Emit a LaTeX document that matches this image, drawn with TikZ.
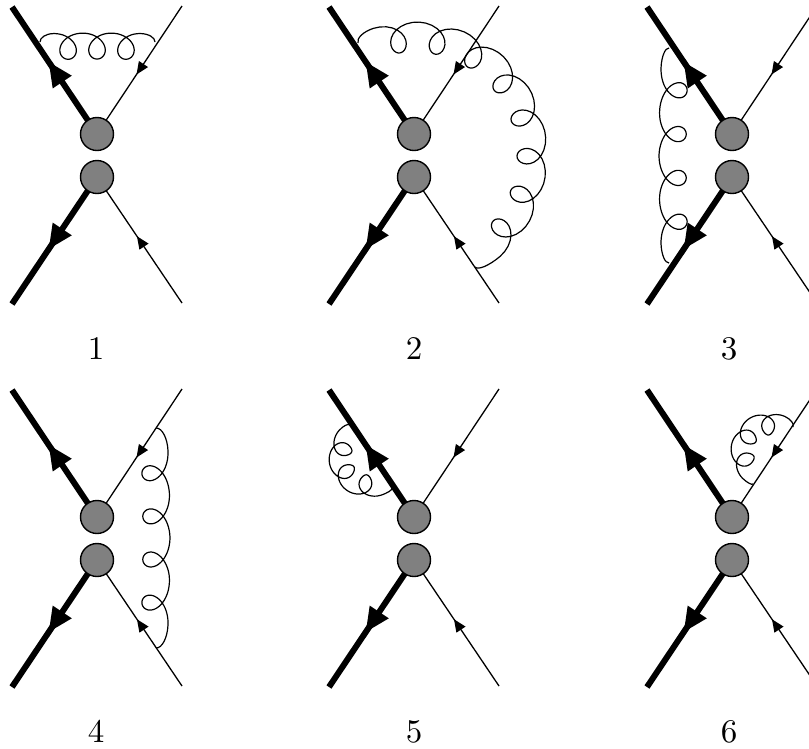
\documentclass[tikz,border=0pt]{standalone}
\usetikzlibrary{decorations.markings,calc}
\font\numfont=cmr10 at 33pt
\tikzset{
  blob/.style={circle,draw=black,fill=black!50,line width=1.4pt,minimum size=33pt,inner sep=0pt,outer sep=0pt},
  heavy/.style={line width=6pt,postaction={decorate},decoration={markings,mark=at position 70pt with {\fill[black] (0,0)--(-24pt,11.5pt)--(-24pt,-11.5pt)--cycle;}}},
  light/.style={line width=1.3pt,postaction={decorate},decoration={markings,mark=at position 55pt with {\fill[black] (0,0)--(12.5pt,5.5pt)--(12.5pt,-5.5pt)--cycle;}}},
  gluonline/.style={line width=1.2pt,line join=round},
  numlabel/.style={font=\numfont,inner sep=0pt}
}
% #1,#2 centre; #3 radius; #4 angle of first loop; #5 angle per loop; #6 half depth; #7 loop width ratio; #8 loops; #9 name of the end coordinates
\def\gluon#1#2#3#4#5#6#7#8#9{%
  \pgfmathsetmacro\tha{#4-0.5*(#5)}%
  \pgfmathsetmacro\thb{#4+(#8-0.5)*(#5)}%
  \pgfmathsetmacro\rout{#3+#6}%
  \coordinate (#9pa) at ({#1+\rout*cos(\tha)},{#2+\rout*sin(\tha)});
  \coordinate (#9ta) at ({#1+\rout*cos(\tha)-10*sin(\tha)},{#2+\rout*sin(\tha)+10*cos(\tha)});
  \coordinate (#9pb) at ({#1+\rout*cos(\thb)},{#2+\rout*sin(\thb)});
  \coordinate (#9tb) at ({#1+\rout*cos(\thb)-10*sin(\thb)},{#2+\rout*sin(\thb)+10*cos(\thb)});
  \coordinate (#9ca) at ($(#9pa)!(#9a)!(#9ta)$);
  \coordinate (#9cb) at ($(#9pb)!(#9b)!(#9tb)$);
  \draw[gluonline] (#9a) .. controls ($(#9a)!.55!(#9ca)$) and ($(#9pa)!.55!(#9ca)$) .. (#9pa)
    -- plot[domain=0.5:#8+0.5,samples=200,variable=\u]
   ({#1+(#3-#6*cos(360*\u))*cos(#4+(#5)*(\u-1-#7*sin(360*\u)))},
    {#2+(#3-#6*cos(360*\u))*sin(#4+(#5)*(\u-1-#7*sin(360*\u)))})
    .. controls ($(#9pb)!.55!(#9cb)$) and ($(#9b)!.55!(#9cb)$) .. (#9b);}
\newcommand\feyn[4]{%
  \begin{scope}[shift={(#2,#3)},name prefix=#1-]
    \node[blob] (up) at (0,0) {};
    \node[blob] (lo) at (0,43) {};
    \coordinate (tl) at (-85,-127);
    \coordinate (tr) at (85,-128);
    \coordinate (bl) at (-85,170);
    \coordinate (br) at (85,169);
    \draw[heavy] (up) -- (tl);
    \draw[heavy] (lo) -- (bl);
    \draw[light] (up) -- (tr);
    \draw[light] (lo) -- (br);
    \node[numlabel] (num) at (#4,215) {#1};
  \end{scope}}
\begin{document}
\begin{tikzpicture}[x=1pt,y=-1pt]
\clip (0,0) rectangle (809,748);
\feyn{1}{97}{134}{-1}
\feyn{2}{414}{134}{0}
\feyn{3}{732}{134}{-3}
\feyn{4}{97}{517}{-1}
\feyn{5}{414}{517}{0}
\feyn{6}{732}{517}{-3}
\coordinate (gAa) at (40,42);   \coordinate (gAb) at (155,42);
\coordinate (gBa) at (358,43);  \coordinate (gBb) at (475,267);
\coordinate (gCa) at (669,48);  \coordinate (gCb) at (669,263);
\coordinate (gDa) at (156,428); \coordinate (gDb) at (156,648);
\coordinate (gEa) at (350,425); \coordinate (gEb) at (392,488);
\coordinate (gFa) at (793,427); \coordinate (gFb) at (753,484);
\gluon{97.5}{2046}{2000}{-90.845}{0.831}{13}{0.51}{3}{gA}
\gluon{414}{155}{118}{-97.9}{19.7}{15}{0.42}{8}{gB}
\gluon{2672.5}{156}{2000}{181.89}{-1.26}{13.5}{0.39}{4}{gC}
\gluon{-1843.5}{538}{2000}{-1.862}{1.24}{13.5}{0.39}{4}{gD}
\gluon{369}{457}{29}{197}{-49.7}{11}{0.5}{3}{gE}
\gluon{769}{451}{27}{-92}{-54}{11}{0.5}{3}{gF}
\end{tikzpicture}
\end{document}
